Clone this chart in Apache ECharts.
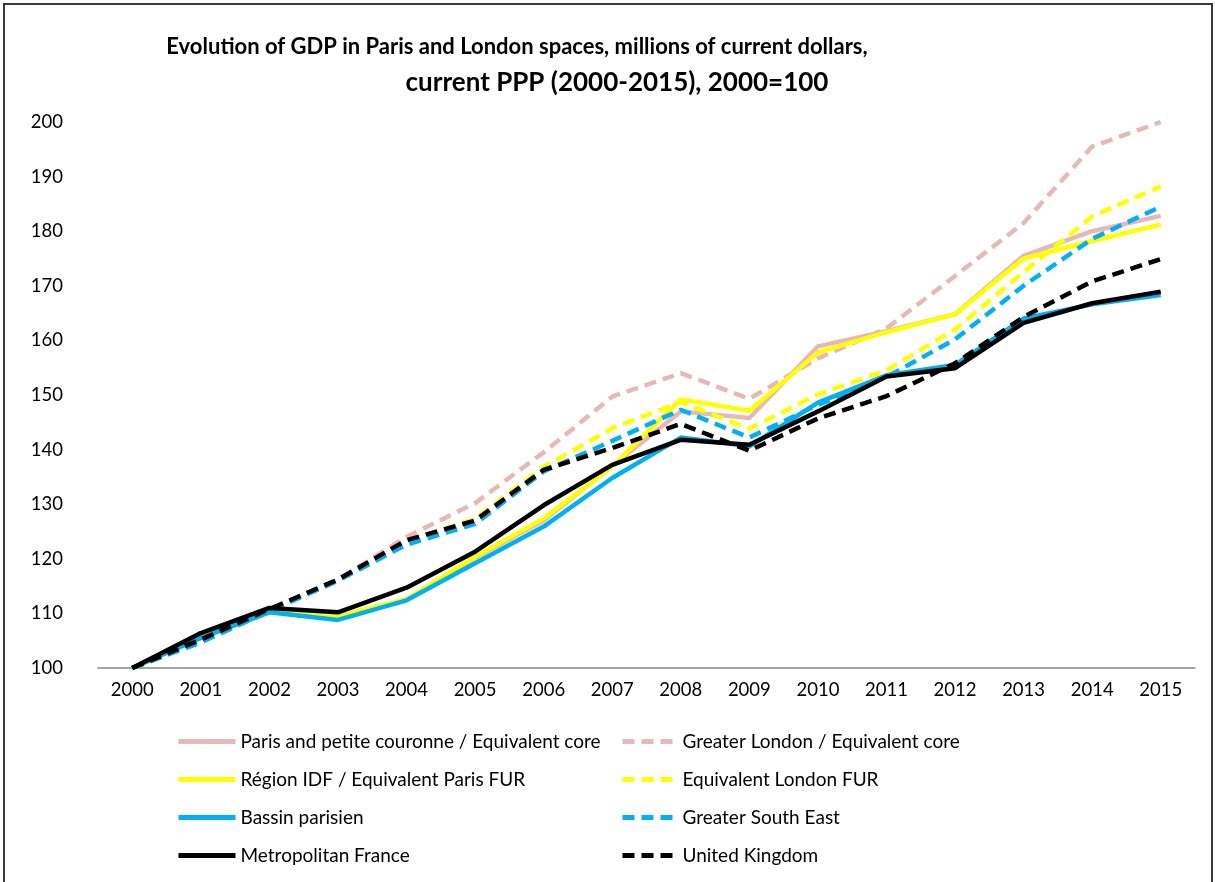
<!DOCTYPE html>
<html>
<head>
<meta charset="utf-8">
<script src="https://cdn.jsdelivr.net/npm/echarts@6/dist/echarts.min.js"></script>
<style>
  html, body { margin: 0; padding: 0; background: #fff; }
  #frame { position: absolute; left: 3px; top: 3px; width: 1206px; height: 885px;
           border: 2px solid #3a3a3a; border-bottom: none; }
  #chart { position: absolute; left: 0; top: 0; width: 1215px; height: 882px; }
</style>
</head>
<body>
<div id="frame"></div>
<div id="chart"></div>
<script>
// years on the x axis
var years = ['2000','2001','2002','2003','2004','2005','2006','2007','2008','2009','2010','2011','2012','2013','2014','2015'];

// index values, 2000 = 100
var parisCore   = [100, 105.8, 110.3, 109.3, 112.5, 120.2, 127.0, 137.0, 147.0, 145.8, 158.9, 161.7, 164.8, 175.5, 180.0, 182.8];
var londonCore  = [100, 105.0, 110.8, 116.2, 124.0, 130.2, 139.5, 149.7, 154.0, 149.3, 156.7, 162.2, 171.8, 181.5, 195.5, 200.0];
var regionIdf   = [100, 105.8, 110.5, 109.5, 112.6, 120.4, 127.4, 136.9, 149.2, 147.1, 157.8, 161.5, 164.8, 175.0, 178.2, 181.2];
var londonFur   = [100, 104.8, 110.6, 116.0, 123.2, 127.3, 136.8, 143.9, 148.7, 143.8, 150.1, 154.5, 162.0, 172.5, 182.7, 188.2];
var bassin      = [100, 105.5, 110.2, 108.8, 112.4, 119.2, 125.9, 134.8, 142.2, 140.6, 148.6, 153.6, 155.5, 164.0, 166.6, 168.3];
var southEast   = [100, 104.7, 110.4, 116.0, 122.6, 126.4, 136.0, 141.6, 147.3, 142.2, 148.2, 153.3, 160.2, 170.0, 178.6, 184.5];
var metroFrance = [100, 106.4, 111.0, 110.2, 114.7, 121.3, 129.8, 137.2, 141.8, 140.9, 147.0, 153.4, 154.9, 163.2, 166.8, 168.9];
var uk          = [100, 105.2, 110.8, 116.2, 123.4, 127.0, 136.3, 140.3, 144.7, 139.8, 145.7, 149.8, 155.8, 164.3, 170.8, 174.9];

var yTicks = [100, 110, 120, 130, 140, 150, 160, 170, 180, 190, 200];

var FONT = 'Lato, "Open Sans", sans-serif';

function line(name, data, color, dashed) {
  return {
    name: name,
    type: 'line',
    data: data,
    symbol: 'none',
    animation: false,
    lineStyle: { color: color, width: 4.5, type: dashed ? [12, 7] : 'solid', cap: 'butt' },
    itemStyle: { color: color }
  };
}

var legendBase = {
  orient: 'vertical', top: 727,
  itemHeight: 14, itemGap: 19,
  itemStyle: { opacity: 0 },
  lineStyle: { width: 5 },
  textStyle: { fontFamily: FONT, fontSize: 19, color: '#000' }
};

var myChart = echarts.init(document.getElementById('chart'));
var option = {
  backgroundColor: 'transparent',
  title: [
    {
      text: 'Evolution of GDP in Paris and London spaces, millions of current dollars,',
      left: 512, top: 31, textAlign: 'center',
      textStyle: { fontFamily: FONT, fontSize: 22, fontWeight: 'bold', color: '#000' }
    },
    {
      text: 'current PPP (2000-2015), 2000=100',
      left: 612, top: 65, textAlign: 'center',
      textStyle: { fontFamily: FONT, fontSize: 26, fontWeight: 'bold', color: '#000' }
    }
  ],
  legend: [
    Object.assign({}, legendBase, {
      left: 171, itemWidth: 57,
      data: ['Paris and petite couronne / Equivalent core', 'Région IDF / Equivalent Paris FUR',
             'Bassin parisien', 'Metropolitan France']
    }),
    Object.assign({}, legendBase, {
      left: 615, itemWidth: 50,
      textStyle: { fontFamily: FONT, fontSize: 19, color: '#000', padding: [0, 0, 0, 5] },
      data: ['Greater London / Equivalent core', 'Equivalent London FUR',
             'Greater South East', 'United Kingdom']
    })
  ],
  grid: { left: 98, right: 20, top: 122, bottom: 214, containLabel: false },
  xAxis: {
    type: 'category',
    data: years,
    boundaryGap: true,
    axisTick: { show: false },
    axisLine: { lineStyle: { color: '#868686', width: 1.5 } },
    axisLabel: { fontFamily: FONT, fontSize: 18.5, color: '#000', margin: 13 }
  },
  yAxis: {
    type: 'value',
    min: yTicks[0], max: yTicks[yTicks.length - 1], interval: 10,
    splitLine: { show: false },
    axisLine: { show: false },
    axisTick: { show: false },
    axisLabel: { fontFamily: FONT, fontSize: 18.5, color: '#000', margin: 35 }
  },
  series: [
    line('Paris and petite couronne / Equivalent core', parisCore, '#E6B9B8', false),
    line('Greater London / Equivalent core', londonCore, '#E6B9B8', true),
    line('Région IDF / Equivalent Paris FUR', regionIdf, '#FFFF00', false),
    line('Equivalent London FUR', londonFur, '#FFFF00', true),
    line('Bassin parisien', bassin, '#00B0F0', false),
    line('Greater South East', southEast, '#00B0F0', true),
    line('Metropolitan France', metroFrance, '#000000', false),
    line('United Kingdom', uk, '#000000', true)
  ]
};
myChart.setOption(option);
</script>
</body>
</html>
